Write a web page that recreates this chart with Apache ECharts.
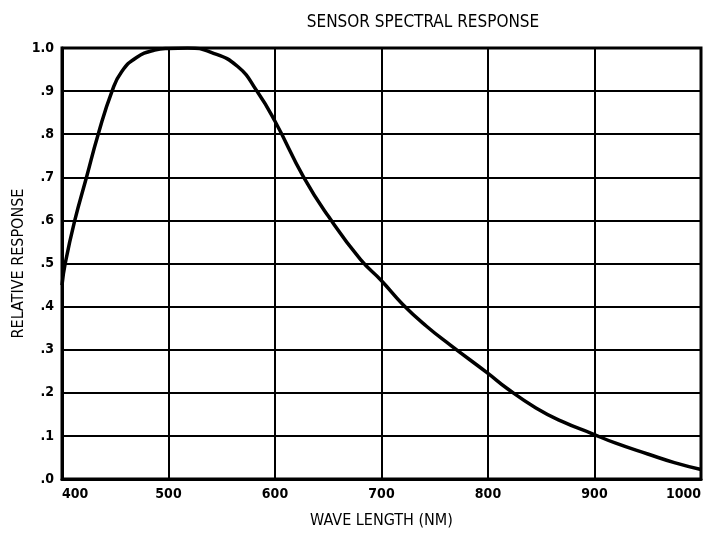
<!DOCTYPE html>
<html>
<head>
<meta charset="utf-8">
<script src="https://cdn.jsdelivr.net/npm/echarts@6/dist/echarts.min.js"></script>
<style>
  html, body { margin: 0; padding: 0; background: #fff; }
  #chart { width: 715px; height: 533px; }
</style>
</head>
<body>
<div id="chart"></div>
<script>
var waveLength = [400, 403, 412, 423, 434, 447, 456, 470, 487, 500, 518, 540, 565, 583, 600,
                  627, 650, 680, 700, 720, 742, 765, 800, 818, 845, 870, 897, 920, 950, 975, 1000];
var response = [0.45, 0.50, 0.60, 0.70, 0.80, 0.90, 0.945, 0.978, 0.995, 0.999, 1.0, 0.99, 0.957, 0.90, 0.83,
                0.70, 0.61, 0.51, 0.46, 0.405, 0.355, 0.31, 0.245, 0.21, 0.165, 0.133, 0.106, 0.083, 0.058, 0.038, 0.022];
var yTickLabels = ['.0', '.1', '.2', '.3', '.4', '.5', '.6', '.7', '.8', '.9', '1.0'];

var font = "'Liberation Sans Narrow', 'DejaVu Sans Condensed', 'Liberation Sans', sans-serif";

var points = [];
waveLength.forEach(function (w, i) {
    points.push([w, response[i]]);
});

var myChart = echarts.init(document.getElementById('chart'));
myChart.setOption({
    animation: false,
    backgroundColor: '#fff',
    title: {
        text: 'SENSOR SPECTRAL RESPONSE',
        left: 418,
        textAlign: 'center',
        top: 9,
        textStyle: { fontFamily: font, fontSize: 17, fontWeight: 'normal', color: '#000' }
    },
    grid: {
        left: 62, right: 14, top: 48, bottom: 54,
        outerBoundsMode: 'none',
        containLabel: false,
        show: true, borderColor: '#000', borderWidth: 3, backgroundColor: '#fff'
    },
    xAxis: {
        type: 'value',
        min: 400, max: 1000, interval: 100,
        name: 'WAVE LENGTH (NM)',
        nameLocation: 'middle',
        nameGap: 34,
        nameMoveOverlap: false,
        nameTextStyle: { fontFamily: font, fontSize: 16, color: '#000' },
        axisLine: { lineStyle: { color: '#000', width: 3 } },
        axisTick: { show: false },
        axisLabel: {
            fontFamily: font, fontSize: 14, fontWeight: 'bold', color: '#000', margin: 8,
            alignMinLabel: 'left', alignMaxLabel: 'right',
            formatter: function (v) { return String(v); }
        },
        splitLine: { show: true, lineStyle: { color: '#000', width: 2 } }
    },
    yAxis: {
        type: 'value',
        min: 0, max: 1, interval: 0.1,
        name: 'RELATIVE RESPONSE',
        nameLocation: 'middle',
        nameGap: 35,
        nameMoveOverlap: false,
        nameTextStyle: { fontFamily: font, fontSize: 16, color: '#000' },
        axisLine: { lineStyle: { color: '#000', width: 3 } },
        axisTick: { show: false },
        axisLabel: {
            fontFamily: font, fontSize: 14, fontWeight: 'bold', color: '#000', margin: 8,
            formatter: function (v) {
                return yTickLabels[Math.round(v * 10)];
            }
        },
        splitLine: { show: true, lineStyle: { color: '#000', width: 2 } }
    },
    series: [{
        type: 'line',
        data: points,
        smooth: 0.5,
        showSymbol: false,
        lineStyle: { color: '#000', width: 3.5 }
    }]
});
</script>
</body>
</html>
